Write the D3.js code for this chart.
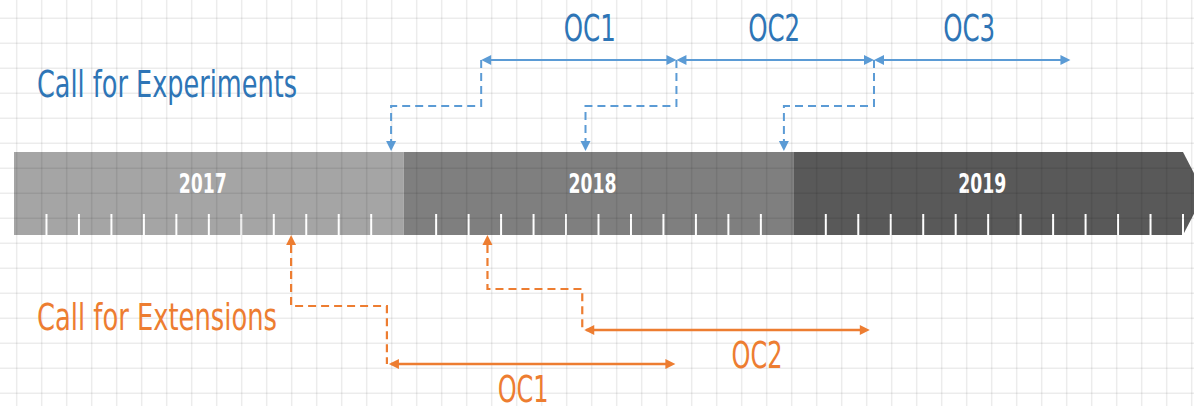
<!DOCTYPE html>
<html lang="en">
<head>
<meta charset="utf-8">
<title>Open calls timeline</title>
<script src="https://cdn.jsdelivr.net/npm/d3@7"></script>
<style>
  body { margin: 0; background: #fff; }
  svg { display: block; }
  text { font-family: "Liberation Sans Narrow", "DejaVu Sans Condensed", "Roboto", sans-serif; }
</style>
</head>
<body>
<script>

// years on the bar
var years = ["2017", "2018", "2019"];
var yearColors = ["#a5a5a5", "#7f7f7f", "#595959"];

// Call for Experiments (blue, above the bar)
var expCalls = ["2017-12-20", "2018-06-19", "2018-12-23"];
var expNames = ["OC1", "OC2", "OC3"];
var expStart = ["2018-03-13", "2018-09-13", "2019-03-16"];
var expEnd   = ["2018-09-13", "2019-03-16", "2019-09-17"];

// Call for Extensions (orange, below the bar)
var extCalls = ["2017-09-17", "2018-03-19"];
var extNames = ["OC1", "OC2"];
var extStart = ["2017-12-16", "2018-06-16"];
var extEnd   = ["2018-09-12", "2019-03-12"];

var w = 1194, h = 406;
var blue = "#5b9bd5", blueText = "#2e75b6", orange = "#ed7d31";

var parse = d3.timeParse("%Y-%m-%d");
// date -> months since Jan 2017 (months drawn equal width, like the ruler)
function monthPos(s) {
    var d = parse(s);
    var dim = new Date(d.getFullYear(), d.getMonth() + 1, 0).getDate();
    return (d.getFullYear() - 2017) * 12 + d.getMonth() + (d.getDate() - 1) / dim;
}

var x = d3.scaleLinear().domain([0, 36]).range([14, 1183]);

var barTop = 152, barBot = 235, tickTop = 214;

var svg = d3.select("body").append("svg")
    .attr("width", w)
    .attr("height", h);

// ---- bar segments
var seg = svg.append("g");
seg.selectAll("path.year")
    .data(years)
    .enter()
    .append("path")
    .attr("class", "year")
    .attr("fill", function(d, i) { return yearColors[i]; })
    .attr("d", function(d, i) {
        var x0 = x(i * 12), x1 = x(i * 12 + 12);
        if (i == years.length - 1) {
            var tip = (barBot - barTop) / 2 * 0.52;
            return "M" + x0 + "," + barTop + " H" + x1 + " L" + (x1 + tip) + "," + ((barTop + barBot) / 2) +
                   " L" + x1 + "," + barBot + " H" + x0 + "Z";
        }
        return "M" + x0 + "," + barTop + " H" + x1 + " V" + barBot + " H" + x0 + "Z";
    });

// month ticks (no tick on the year boundaries)
var months = d3.range(1, 37).filter(function(m) { return m % 12 != 0 || m == 36; });
seg.selectAll("line.tick")
    .data(months)
    .enter()
    .append("line")
    .attr("class", "tick")
    .attr("x1", function(d) { return x(d); })
    .attr("x2", function(d) { return x(d); })
    .attr("y1", tickTop)
    .attr("y2", barBot)
    .attr("stroke", "#fff")
    .attr("stroke-width", 2);

seg.selectAll("text.yr")
    .data(years)
    .enter()
    .append("text")
    .attr("class", "yr")
    .attr("x", function(d, i) { return x(i * 12 + 6) - 6; })
    .attr("y", 193)
    .attr("text-anchor", "middle")
    .attr("fill", "#fff")
    .attr("font-weight", "bold")
    .attr("font-size", 26)
    .attr("textLength", 48)
    .attr("lengthAdjust", "spacingAndGlyphs")
    .text(function(d) { return d; });

// ---- background grid (drawn over the bar, very light)
var grid = svg.append("g").attr("stroke", "rgba(0,0,0,0.075)").attr("stroke-width", 1.5);
grid.selectAll("line.gx")
    .data(d3.range(16.7, w, 25))
    .enter().append("line")
    .attr("x1", function(d) { return d; }).attr("x2", function(d) { return d; })
    .attr("y1", 0).attr("y2", h);
grid.selectAll("line.gy")
    .data(d3.range(18.3, h, 25))
    .enter().append("line")
    .attr("y1", function(d) { return d; }).attr("y2", function(d) { return d; })
    .attr("x1", 0).attr("x2", w);

// triangle head, tip at (tx,ty), pointing dir
function head(tx, ty, dir) {
    var L = 10, H = 5;
    if (dir == "left")  return "M" + tx + "," + ty + " L" + (tx + L) + "," + (ty - H) + " L" + (tx + L) + "," + (ty + H) + "Z";
    if (dir == "right") return "M" + tx + "," + ty + " L" + (tx - L) + "," + (ty - H) + " L" + (tx - L) + "," + (ty + H) + "Z";
    if (dir == "down")  return "M" + tx + "," + ty + " L" + (tx - H) + "," + (ty - L) + " L" + (tx + H) + "," + (ty - L) + "Z";
    return "M" + tx + "," + ty + " L" + (tx - H) + "," + (ty + L) + " L" + (tx + H) + "," + (ty + L) + "Z";
}

// ---- Call for Experiments
var expY = 60, expStair = 106;
var expLabelShift = [11, -1, -3];
var ge = svg.append("g");

expNames.forEach(function(name, i) {
    var xs = x(monthPos(expStart[i])), xe = x(monthPos(expEnd[i])), xc = x(monthPos(expCalls[i]));

    ge.append("path")
        .attr("d", "M" + xs + "," + expY + " V" + expStair + " H" + xc + " V" + (barTop - 10))
        .attr("fill", "none")
        .attr("stroke", blue)
        .attr("stroke-width", 2)
        .attr("stroke-dasharray", "8,5");
    ge.append("path").attr("d", head(xc, barTop - 1, "down")).attr("fill", blue);

    ge.append("line")
        .attr("x1", xs + 4).attr("x2", xe - 4)
        .attr("y1", expY).attr("y2", expY)
        .attr("stroke", blue)
        .attr("stroke-width", 2);
    ge.append("path").attr("d", head(xs, expY, "left")).attr("fill", blue);
    ge.append("path").attr("d", head(xe, expY, "right")).attr("fill", blue);

    ge.append("text")
        .attr("x", (xs + xe) / 2 + expLabelShift[i])
        .attr("y", expY - 19)
        .attr("text-anchor", "middle")
        .attr("fill", blueText)
        .attr("font-size", 38)
        .attr("textLength", 52)
        .attr("lengthAdjust", "spacingAndGlyphs")
        .text(name);
});

ge.append("text")
    .attr("x", 37)
    .attr("y", 97)
    .attr("fill", blueText)
    .attr("font-size", 38)
    .attr("textLength", 260)
    .attr("lengthAdjust", "spacingAndGlyphs")
    .text("Call for Experiments");

// ---- Call for Extensions
var extStair = [306, 289], extArrowY = [364, 330];
var extLabelShift = [-8, 31];
var go = svg.append("g");

extNames.forEach(function(name, i) {
    var xs = x(monthPos(extStart[i])), xe = x(monthPos(extEnd[i])), xc = x(monthPos(extCalls[i]));
    var ay = extArrowY[i];

    go.append("path").attr("d", head(xc, barBot, "up")).attr("fill", orange);
    go.append("path")
        .attr("d", "M" + xc + "," + (barBot + 10) + " V" + extStair[i] + " H" + xs + " V" + ay)
        .attr("fill", "none")
        .attr("stroke", orange)
        .attr("stroke-width", 2.2)
        .attr("stroke-dasharray", "8,5");

    go.append("line")
        .attr("x1", xs + 4).attr("x2", xe - 4)
        .attr("y1", ay).attr("y2", ay)
        .attr("stroke", orange)
        .attr("stroke-width", 2.5);
    go.append("path").attr("d", head(xs + 2, ay, "left")).attr("fill", orange);
    go.append("path").attr("d", head(xe, ay, "right")).attr("fill", orange);

    go.append("text")
        .attr("x", (xs + xe) / 2 + extLabelShift[i])
        .attr("y", ay + 38)
        .attr("text-anchor", "middle")
        .attr("fill", orange)
        .attr("font-size", 38)
        .attr("textLength", 51)
        .attr("lengthAdjust", "spacingAndGlyphs")
        .text(name);
});

go.append("text")
    .attr("x", 37)
    .attr("y", 330)
    .attr("fill", orange)
    .attr("font-size", 38)
    .attr("textLength", 240)
    .attr("lengthAdjust", "spacingAndGlyphs")
    .text("Call for Extensions");

</script>
</body>
</html>
